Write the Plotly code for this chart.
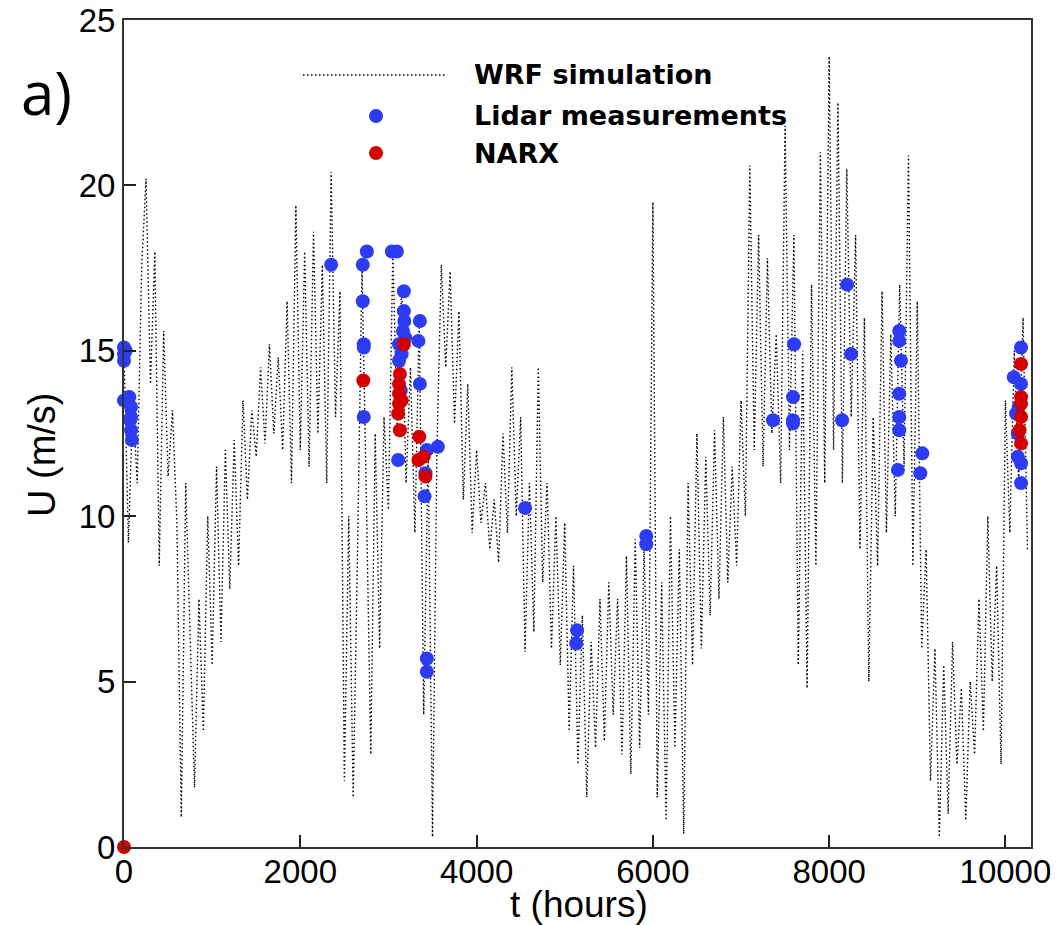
import plotly.graph_objects as go

# ---------------- data ----------------
wrf_step_hours = 50
wrf_u = [
    15.0, 9.2, 13.5, 11.0, 17.5, 20.2, 14.0, 18.0, 8.5, 15.6,
    11.2, 13.2, 9.8, 0.9, 11.0, 6.0, 1.8, 7.5, 3.5, 10.0,
    5.5, 11.5, 6.2, 12.0, 7.8, 12.3, 8.5, 13.5, 10.5, 13.2,
    11.8, 14.5, 12.2, 15.2, 12.5, 14.8, 12.0, 16.5, 11.0, 19.4,
    12.0, 18.0, 11.5, 18.6, 12.5, 17.6, 11.0, 20.4, 13.0, 16.8,
    2.0, 10.0, 1.5, 9.0, 17.5, 10.5, 2.8, 12.5, 6.0, 13.0,
    10.2, 18.0, 12.5, 17.0, 11.0, 14.5, 9.5, 16.0, 4.0, 12.0,
    0.3, 12.0, 17.6, 14.5, 17.4, 12.8, 16.2, 10.5, 14.0, 9.5,
    12.0, 9.8, 11.0, 9.0, 10.5, 8.6, 12.5, 9.5, 14.5, 10.0,
    13.0, 5.9, 11.0, 6.5, 14.5, 8.0, 11.0, 6.0, 10.0, 5.5,
    9.8, 3.5, 8.5, 2.5, 7.0, 1.5, 6.2, 3.0, 7.5, 3.2,
    8.0, 4.0, 7.5, 2.8, 8.8, 2.2, 9.3, 3.0, 9.0, 4.0,
    19.5, 1.5, 8.0, 0.8, 10.0, 3.0, 9.0, 0.4, 11.0, 5.5,
    12.5, 6.0, 11.8, 7.0, 12.6, 7.5, 13.0, 8.0, 11.5, 8.5,
    13.5, 10.0, 20.6, 12.0, 18.5, 11.5, 17.8, 12.5, 15.5, 11.0,
    21.8, 12.0, 18.5, 5.5, 15.0, 4.8, 17.0, 8.5, 21.0, 11.0,
    23.9, 12.0, 22.5, 11.0, 20.5, 13.0, 18.5, 9.0, 16.0, 5.0,
    13.0, 8.5, 16.8, 9.5, 15.5, 10.0, 17.0, 11.5, 20.9, 8.5,
    16.5, 6.0, 9.0, 2.0, 6.0, 0.3, 5.5, 1.0, 6.2, 2.5,
    4.8, 0.8, 5.0, 2.8, 7.5, 3.5, 10.0, 5.0, 8.5, 2.5,
    13.5, 9.5, 15.0, 11.0, 16.0, 9.0,
]
wrf_t = [i * wrf_step_hours for i in range(len(wrf_u))]

lidar_t = [0, 0, 0, 20, 0, 60, 80, 80, 80, 90, 70,
           2350,
           2709, 2755, 2709, 2720, 2720, 2720,
           3039, 3095, 3175, 3175, 3180, 3165, 3190, 3150, 3120, 3140, 3110, 3120,
           3357, 3340, 3357, 3436, 3561, 3420, 3410, 3436, 3436,
           4550, 5140, 5130, 5925, 5925,
           7363, 7602, 7590, 7590, 7590, 8203, 8249, 8147,
           8795, 8795, 8815, 8795, 8795, 8795, 8780, 9057, 9034,
           10177, 10095, 10177, 10150, 10120, 10140, 10140, 10177, 10177]
lidar_u = [15.1, 14.9, 14.7, 15.0, 13.5, 13.6, 13.3, 13.0, 12.6, 12.3, 12.9,
           17.6,
           17.6, 18.0, 16.5, 15.2, 15.1, 13.0,
           18.0, 18.0, 16.8, 16.2, 15.9, 15.6, 15.4, 14.9, 14.7, 13.8, 11.7, 15.2,
           15.9, 15.3, 14.0, 12.0, 12.1, 11.3, 10.6, 5.7, 5.3,
           10.25, 6.55, 6.15, 9.4, 9.15,
           12.9, 15.2, 13.6, 12.9, 12.8, 17.0, 14.9, 12.9,
           15.6, 15.3, 14.7, 13.7, 13.0, 12.6, 11.4, 11.9, 11.3,
           15.1, 14.2, 14.0, 13.3, 13.1, 12.5, 11.8, 11.6, 11.0]

narx_t = [0, 2715,
          3175, 3130, 3120, 3120, 3120, 3150, 3110, 3130,
          3350, 3400, 3340, 3420,
          10177, 10177, 10177, 10177, 10160, 10177]
narx_u = [0.0, 14.1,
          15.2, 14.3, 14.0, 13.7, 13.4, 13.5, 13.1, 12.6,
          12.4, 11.8, 11.7, 11.2,
          14.6, 13.6, 13.4, 13.0, 12.6, 12.2]

x_ticks = [0, 2000, 4000, 6000, 8000, 10000]
x_ticktext = ["0", "2000", "4000", "6000", "8000", "10000"]
y_ticks = [0, 5, 10, 15, 20, 25]
y_ticktext = ["0", "5", "10", "15", "20", "25"]
legend_labels = ["WRF simulation", "Lidar measurements", "NARX"]

# ---------------- style ----------------
BLUE = "#2b3cf2"
RED = "#d40000"
W, H = 1064, 925
L, R, T, B = 124, 33, 20, 78
PW, PH = W - L - R, H - T - B
WRF_LINE = dict(color="#000000", width=1.4, dash="1.5px,2.5px")


def px(x):
    return (x - L) / PW


def py(y):
    return (H - B - y) / PH


fig = go.Figure()
fig.add_trace(go.Scatter(x=wrf_t, y=wrf_u, mode="lines", line=WRF_LINE,
                         name=legend_labels[0], showlegend=False))
fig.add_trace(go.Scatter(x=lidar_t, y=lidar_u, mode="markers",
                         marker=dict(color=BLUE, size=14, line=dict(width=0)),
                         name=legend_labels[1], showlegend=False, cliponaxis=False))
fig.add_trace(go.Scatter(x=narx_t, y=narx_u, mode="markers",
                         marker=dict(color=RED, size=14, line=dict(width=0)),
                         name=legend_labels[2], showlegend=False, cliponaxis=False))

# manual legend
shapes = [
    dict(type="line", xref="paper", yref="paper", x0=px(303), x1=px(445),
         y0=py(75), y1=py(75), line=WRF_LINE),
    dict(type="circle", xref="paper", yref="paper", x0=px(369), x1=px(383),
         y0=py(109), y1=py(123), fillcolor=BLUE, line=dict(width=0)),
    dict(type="circle", xref="paper", yref="paper", x0=px(369), x1=px(383),
         y0=py(146), y1=py(160), fillcolor=RED, line=dict(width=0)),
]
annotations = []
for lab, yy in zip(legend_labels, [74, 116, 153]):
    annotations.append(dict(text="<b>" + lab + "</b>", xref="paper", yref="paper",
                            x=px(472), y=py(yy), xanchor="left", yanchor="middle",
                            showarrow=False,
                            font=dict(family="DejaVu Sans", size=27, color="black")))

annotations.append(dict(text="a)", xref="paper", yref="paper", x=px(46), y=py(92),
                        xanchor="center", yanchor="middle", showarrow=False,
                        font=dict(family="Open Sans", size=60, color="black")))
annotations.append(dict(text="t (hours)", xref="paper", yref="paper", x=px(579), y=py(905),
                        xanchor="center", yanchor="middle", showarrow=False,
                        font=dict(family="Liberation Sans", size=37, color="black")))
annotations.append(dict(text="U (m/s)", xref="paper", yref="paper", x=px(42), y=py(455),
                        xanchor="center", yanchor="middle", showarrow=False, textangle=-90,
                        font=dict(family="Liberation Sans", size=38, color="black")))

axis_common = dict(showgrid=False, zeroline=False, showline=True, linewidth=2,
                   linecolor="#333333", mirror=True, ticks="inside", ticklen=12,
                   tickwidth=1.5, tickcolor="#222222", automargin=False,
                   tickfont=dict(family="Liberation Sans", size=33, color="black"))

fig.update_layout(
    width=W, height=H, margin=dict(l=L, r=R, t=T, b=B, autoexpand=False),
    paper_bgcolor="white", plot_bgcolor="white",
    xaxis=dict(range=[0, 10290], tickvals=x_ticks, ticktext=x_ticktext,
               ticklabelstandoff=-6, **axis_common),
    yaxis=dict(range=[0, 25], tickvals=y_ticks, ticktext=y_ticktext, **axis_common),
    shapes=shapes, annotations=annotations, showlegend=False,
)

fig.write_html("out.html")
